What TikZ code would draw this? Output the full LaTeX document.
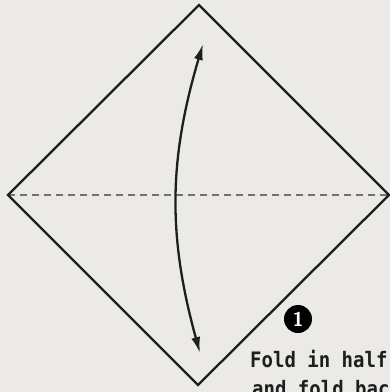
\documentclass[tikz,border=0pt]{standalone}
\usepackage{fontspec}
\newfontfamily\monofont{DejaVu Sans Mono}
\usetikzlibrary{arrows.meta}
\definecolor{paper}{RGB}{236,234,231}
\definecolor{ink}{RGB}{30,30,30}
\definecolor{crease}{RGB}{115,113,110}
\begin{document}
\begin{tikzpicture}[x=1pt,y=-1pt,>={Latex[length=16pt,width=9pt]}]

\useasboundingbox (0,0) rectangle (390,392);
\fill[paper] (0,0) rectangle (390,392);
\clip (0,0) rectangle (390,392);

% corners of the square
\coordinate (T) at (199,5);
\coordinate (L) at (8,195);
\coordinate (R) at (389,195);
\coordinate (B) at (198,385);

% ends of the fold arrow
\coordinate (tipT) at (203,44);
\coordinate (tipB) at (200,353);

\draw[crease,line width=1.8pt,dash pattern=on 7pt off 5pt]
(L)--(R);

\draw[ink,line width=2.3pt,line join=miter]
(T)--(R)--(B)--(L)--cycle;

\draw[<->,ink,line width=2.3pt]
(tipT) to[bend right=16] (tipB);

\node[circle,fill=black,text=white,inner sep=0pt,minimum size=28pt,
font=\fontsize{20}{20}\selectfont\sffamily\bfseries]
(num)
at (298,319)
{1};

\node[anchor=north west,inner sep=0pt,align=left,text=ink,
yscale=1.12,transform shape,
font=\monofont\bfseries\fontsize{19}{26}\selectfont]
(txt)
at (250,350)
{Fold in half\\\hspace*{2pt}and fold back};

\end{tikzpicture}
\end{document}
